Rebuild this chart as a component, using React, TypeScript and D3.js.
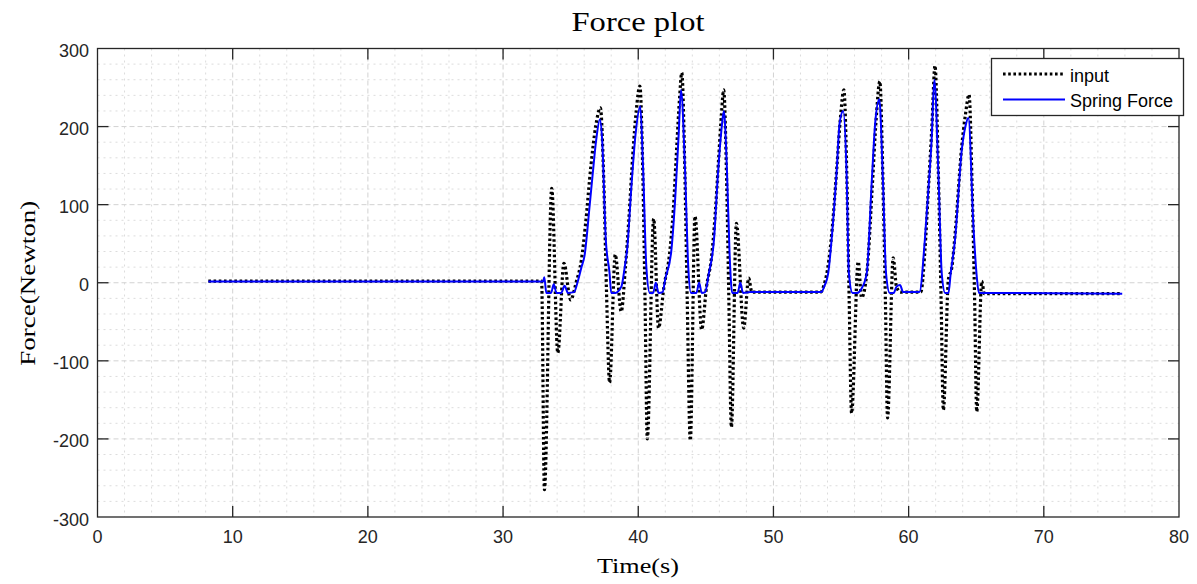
import React from "react";
import * as d3 from "d3";

// ---- Data ----
const inputTime = [
  8.2, 32.85, 33.06, 33.6, 34.05, 34.5, 35.0, 35.4, 35.8, 36.1, 36.5, 36.85, 37.2, 37.45, 37.65, 37.88,
  38.3, 38.74, 39.05, 39.3, 39.6, 39.85, 40.12, 40.35, 40.5, 40.67, 41.14, 41.5, 41.9, 42.3, 42.6,
  42.85, 43.05, 43.22, 43.45, 43.62, 43.85, 44.2, 44.69, 45.05, 45.4, 45.7, 45.95, 46.15, 46.32,
  46.55, 46.7, 46.89, 47.26, 47.8, 48.17, 48.4, 53.5, 53.7, 54.0, 54.35, 54.7, 54.95, 55.21, 55.45,
  55.6, 55.78, 56.27, 56.52, 56.95, 57.3, 57.6, 57.87, 58.1, 58.28, 58.44, 58.86, 59.1, 59.4, 60.9,
  61.2, 61.46, 61.72, 61.95, 62.2, 62.4, 62.57, 62.94, 63.2, 63.45, 63.93, 64.2, 64.47, 64.7, 64.88,
  65.04, 65.41, 65.6, 75.8,
];
const inputForce = [
  2, 2, -265, 121, -90, 25, -22, 0, 30, 75, 150, 200, 224, 130, -10, -128,
  36, -37, 20, 80, 165, 220, 252, 130, -20, -200, 82, -58, -5, 35, 95,
  175, 235, 269, 140, -20, -202, 85, -60, -5, 30, 90, 160, 215, 247,
  120, -20, -185, 76, -58, 6, -12, -12, -5, 17, 70, 150, 210, 247, 120,
  -20, -167, 27, -19, 20, 120, 210, 258, 130, -20, -173, 32, -5, -12, -12,
  40, 119, 200, 278, 140, -20, -163, 4, 20, 65, 175, 215, 241, 120, -20,
  -165, 2, -14, -14,
];

const springTime = [
  8.2, 32.95, 33.05, 33.2, 33.55, 33.75, 33.95, 34.3, 34.55, 34.8, 35.25, 35.5, 35.8, 36.02, 36.4,
  36.64, 36.89, 37.16, 37.33, 37.6, 37.88, 38.0, 38.3, 38.75, 39.0, 39.19, 39.48, 39.8, 40.15, 40.35,
  40.6, 40.85, 41.1, 41.3, 41.5, 41.8, 42.0, 42.44, 42.74, 42.99, 43.16, 43.45, 43.7, 43.9, 44.3,
  44.5, 44.7, 44.95, 45.2, 45.6, 45.9, 46.15, 46.33, 46.55, 46.75, 46.95, 47.35, 47.55, 47.75, 48.3,
  53.55, 53.75, 54.05, 54.3, 54.67, 54.9, 55.16, 55.41, 55.58, 55.85, 56.2, 56.5, 56.9, 57.28, 57.53,
  57.83, 58.08, 58.33, 58.6, 58.9, 59.1, 59.36, 59.6, 60.8, 61.2, 61.46, 61.7, 61.9, 62.2, 62.45,
  62.7, 62.95, 63.1, 63.43, 63.93, 64.2, 64.42, 64.8, 65.04, 65.2, 75.8,
];
const springForce = [
  1.5, 1.5, 7, -13, -13, -2, -13, -13, -4, -13, -12, 0, 20, 34, 98,
  141, 183, 209, 183, 55, 12, -13, -13, -5, 20, 45, 120, 190, 226, 150,
  20, -13, -13, 0, -13, -12, 5, 40, 110, 190, 247, 150, 20, -13, -13,
  0, -13, -12, 10, 55, 141, 195, 220, 150, 40, -13, -13, 0, -13, -12,
  -12, -5, 12, 55, 141, 205, 220, 141, 12, -13, -13, -8, 12, 132, 205,
  235, 141, 12, -13, -13, -5, -3, -12, -12, 55, 119, 183, 260, 141, 12,
  -13, -13, 10, 55, 170, 200, 211, 70, 8, -13, -14,
];

const xTicks = [0, 10, 20, 30, 40, 50, 60, 70, 80];
const yTicks = [-300, -200, -100, 0, 100, 200, 300];
const xMinorTicks = d3.range(0, 80.001, 2);
const yMinorTicks = d3.range(-300, 300.001, 20);
const legendLabels = ["input", "Spring Force"];

// ---- Layout ----
const W = 1197;
const H = 584;
const L = 97.5, R = 1179, T = 48.5, B = 517;

export default function App() {
  const x = d3.scaleLinear().domain([0, 80]).range([L, R]);
  const y = d3.scaleLinear().domain([-300, 300]).range([B, T]);

  const inputData = inputTime.map((t, i) => [t, inputForce[i]] as [number, number]);
  const springData = springTime.map((t, i) => [t, springForce[i]] as [number, number]);

  const line = d3
    .line<[number, number]>()
    .x((d) => x(d[0]))
    .y((d) => y(d[1]))
    .curve(d3.curveMonotoneX);

  const axisColor = "#262626";
  const tickLen = 11;
  const tickFont = "'Liberation Sans', Arial, Helvetica, sans-serif";
  const serif = "'Liberation Serif', 'Times New Roman', serif";

  return (
    <svg
      width={W}
      height={H}
      style={{ position: "absolute", left: 0, top: 0, background: "#fff" }}
      xmlns="http://www.w3.org/2000/svg"
    >
      <rect x={0} y={0} width={W} height={H} fill="#fff" />
      {/* minor grid */}
      <g stroke="#dcdcdc" strokeWidth={1} strokeDasharray="2,4">
        {xMinorTicks
          .filter((v) => v % 10 !== 0)
          .map((v) => (
            <line key={"xm" + v} x1={x(v)} x2={x(v)} y1={T} y2={B} />
          ))}
        {yMinorTicks
          .filter((v) => v % 100 !== 0)
          .map((v) => (
            <line key={"ym" + v} x1={L} x2={R} y1={y(v)} y2={y(v)} />
          ))}
      </g>
      {/* major grid */}
      <g stroke="#d2d2d2" strokeWidth={1} strokeDasharray="5,3">
        {xTicks.slice(1, -1).map((v) => (
          <line key={"xg" + v} x1={x(v)} x2={x(v)} y1={T} y2={B} />
        ))}
        {yTicks.slice(1, -1).map((v) => (
          <line key={"yg" + v} x1={L} x2={R} y1={y(v)} y2={y(v)} />
        ))}
      </g>

      {/* data */}
      <path
        d={line(inputData) || ""}
        fill="none"
        stroke="#000"
        strokeWidth={3.2}
        strokeDasharray="2.6,2.6"
      />
      <path d={line(springData) || ""} fill="none" stroke="#0000ff" strokeWidth={2} />

      {/* axes box and ticks */}
      <g stroke={axisColor} strokeWidth={1.3}>
        <rect x={L} y={T} width={R - L} height={B - T} fill="none" />
        {xTicks.slice(1, -1).map((v) => (
          <g key={"xt" + v}>
            <line x1={x(v)} x2={x(v)} y1={B} y2={B - tickLen} />
            <line x1={x(v)} x2={x(v)} y1={T} y2={T + tickLen} />
          </g>
        ))}
        {yTicks.slice(1, -1).map((v) => (
          <g key={"yt" + v}>
            <line x1={L} x2={L + tickLen} y1={y(v)} y2={y(v)} />
            <line x1={R} x2={R - tickLen} y1={y(v)} y2={y(v)} />
          </g>
        ))}
      </g>

      {/* tick labels */}
      <g fill={axisColor} fontFamily={tickFont} fontSize={18}>
        {xTicks.map((v) => (
          <text key={"xl" + v} x={x(v)} y={543} textAnchor="middle">
            {v}
          </text>
        ))}
        {yTicks.map((v) => (
          <text key={"yl" + v} x={89} y={y(v) + 8.5} textAnchor="end">
            {v}
          </text>
        ))}
      </g>

      {/* labels */}
      <text x={638} y={31} textAnchor="middle" fontFamily={serif} fontSize={27} fill="#000" textLength={133} lengthAdjust="spacingAndGlyphs">
        Force plot
      </text>
      <text x={638} y={573} textAnchor="middle" fontFamily={serif} fontSize={22} fill="#000" textLength={82} lengthAdjust="spacingAndGlyphs">
        Time(s)
      </text>
      <text
        transform={`translate(35,${(T + B) / 2 + 0.5}) rotate(-90)`}
        textAnchor="middle"
        fontFamily={serif}
        fontSize={22}
        fill="#000"
        textLength={165}
        lengthAdjust="spacingAndGlyphs"
      >
        Force(Newton)
      </text>

      {/* legend */}
      <g>
        <rect x={991.5} y={58.5} width={192} height={57} fill="#fff" stroke={axisColor} strokeWidth={1.3} />
        <line x1={1003} x2={1065} y1={74} y2={74} stroke="#000" strokeWidth={3.2} strokeDasharray="2.6,2.6" />
        <line x1={1003} x2={1065} y1={99.5} y2={99.5} stroke="#0000ff" strokeWidth={2} />
        <text x={1070} y={81.5} fontFamily={tickFont} fontSize={18} fill="#000">
          {legendLabels[0]}
        </text>
        <text x={1070} y={107} fontFamily={tickFont} fontSize={18} fill="#000">
          {legendLabels[1]}
        </text>
      </g>
    </svg>
  );
}
